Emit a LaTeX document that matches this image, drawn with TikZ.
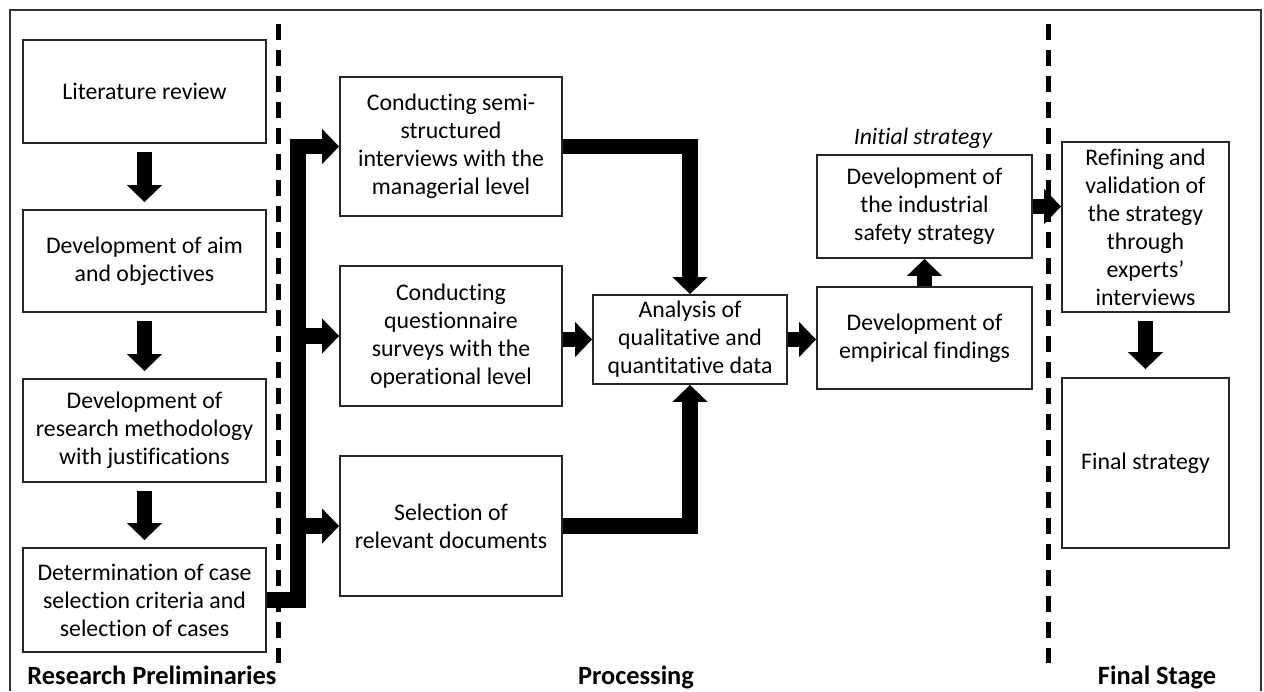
\documentclass[tikz,border=0pt]{standalone}
\usepackage{fontspec}
\setmainfont{Carlito}[Ligatures=NoCommon]
\usetikzlibrary{arrows.meta}
\begin{document}
\begin{tikzpicture}[x=0.5pt,y=-0.5pt,
  box/.style={draw=black!85, line width=0.9pt, fill=white, align=center,
    inner sep=1pt, font=\fontsize{11.9}{14}\selectfont},
  flow/.style={line width=7.8pt, line join=miter,
    -{Triangle[length=8.5pt,width=17pt]}},
  divider/.style={line width=2.5pt, dash pattern=on 8pt off 5pt},
  stage/.style={font=\fontsize{13.2}{15}\selectfont\bfseries, anchor=base},
  note/.style={font=\fontsize{11.8}{14}\selectfont\itshape, anchor=base}]

\useasboundingbox (0,0) rectangle (1264,691);
\fill[white] (0,0) rectangle (1264,691);

% outer frame
\draw[line width=1pt, black!80] (9.5,691) -- (9.5,10) -- (1261,10) -- (1261,691);

% stage dividers
\draw[divider] (278,24) -- (278,663);
\draw[divider] (1048,24) -- (1048,663);

% research preliminaries
\node[box, minimum width=121.5pt, minimum height=51.5pt] (lit)  at (144.5,91.5) {Literature review};
\node[box, minimum width=121.5pt, minimum height=51pt]   (aim)  at (144.5,261)  {Development of aim\\and objectives};
\node[box, minimum width=121.5pt, minimum height=51.5pt] (meth) at (144.5,430.5) {Development of\\research methodology\\with justifications};
\node[box, minimum width=121.5pt, minimum height=52pt]   (det)  at (144.5,600)  {Determination of case\\selection criteria and\\selection of cases};

% processing
\node[box, minimum width=111pt, minimum height=69.5pt] (semi)  at (451,146.5) {Conducting semi-\\structured\\interviews with the\\managerial level};
\node[box, minimum width=111pt, minimum height=70pt]   (quest) at (451,336)   {Conducting\\questionnaire\\surveys with the\\operational level};
\node[box, minimum width=111pt, minimum height=70pt]   (sel)   at (451,526)   {Selection of\\relevant documents};
\node[box, minimum width=97pt, minimum height=44.5pt]  (ana)   at (690,339.5) {Analysis of\\qualitative and\\quantitative data};
\node[box, minimum width=107.5pt, minimum height=51.5pt] (ind) at (924.5,206.5) {Development of\\the industrial\\safety strategy};
\node[box, minimum width=107.5pt, minimum height=51pt]   (emp) at (924.5,338)   {Development of\\empirical findings};
\node[note] (init) at (923,144) {Initial strategy};

% final stage
\node[box, minimum width=83.5pt, minimum height=85pt] (ref) at (1145.5,227) {Refining and\\validation of\\the strategy\\through\\experts’\\interviews};
\node[box, minimum width=83.5pt, minimum height=85pt] (fin) at (1145.5,463) {Final strategy};

% stage titles
\node[stage] (t1) at (152,684)  {Research Preliminaries};
\node[stage] (t2) at (636,684)  {Processing};
\node[stage] (t3) at (1157,684) {Final Stage};

% preliminary sequence
\draw[flow] ([yshift=-4pt]lit.south)  -- ([yshift=3.5pt]aim.north);
\draw[flow] ([yshift=-4pt]aim.south)  -- ([yshift=3.5pt]meth.north);
\draw[flow] ([yshift=-4pt]meth.south) -- ([yshift=3.5pt]det.north);

% distribution bus to data collection
\coordinate (bus) at (298,600);
\draw[flow] (det.east) -- (bus) |- (semi.west);
\draw[flow] (bus |- quest.west) -- (quest.west);
\draw[flow] (bus |- sel.west) -- (sel.west);

% into analysis
\draw[flow] (semi.east) -| (ana.north);
\draw[flow] (sel.east) -| (ana.south);
\draw[flow] (ana.west -| quest.east) -- (ana.west);

% analysis onwards
\draw[flow] (ana.east) -- (ana.east -| emp.west);
\draw[flow] (emp.north) -- (ind.south);
\draw[flow] (ind.east) -- (ind.east -| ref.west);
\draw[flow] ([yshift=-4pt]ref.south) -- ([yshift=4pt]fin.north);
\end{tikzpicture}
\end{document}
